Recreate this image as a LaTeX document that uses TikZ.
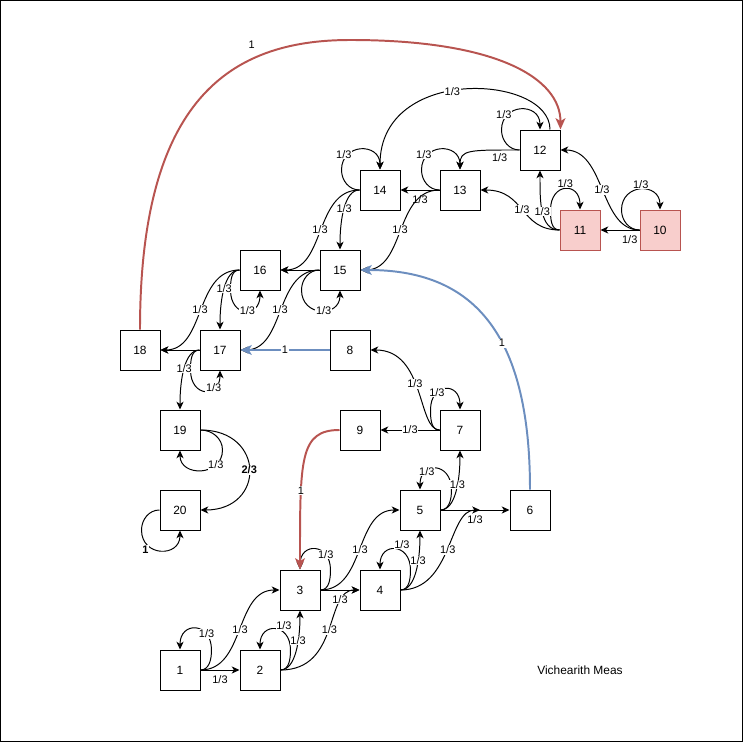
\documentclass[tikz,border=0pt]{standalone}
\usepackage{fontspec}
\setmainfont{Liberation Sans}
\usetikzlibrary{arrows.meta}

\definecolor{hotfill}{HTML}{F8CECC}
\definecolor{hotline}{HTML}{B85450}
\definecolor{coolline}{HTML}{6C8EBF}

\tikzset{
  box/.style={draw, line width=0.7pt, minimum size=1cm, inner sep=0pt, font=\fontsize{8.5}{10}\selectfont},
  hot/.style={box, draw=hotline, fill=hotfill},
  edge/.style={-{Stealth[length=5.5pt, width=5pt, inset=1.5pt]}, line width=0.7pt},
  redge/.style={-{Stealth[length=8pt, width=7pt, inset=2pt]}, line width=1.4pt, draw=hotline},
  bedge/.style={-{Stealth[length=8pt, width=7pt, inset=2pt]}, line width=1.4pt, draw=coolline},
  lbl/.style={font=\fontsize{7.8}{9}\selectfont, fill=white, inner sep=0.5pt},
}

\begin{document}
\begin{tikzpicture}
  \useasboundingbox (-0.5,0.2) rectangle (18.075,18.75);
  \draw[line width=0.7pt] (-0.488,0.212) rectangle (18.063,18.738);

  \node[box] (s1) at (4, 2) {1};
  \node[box] (s2) at (6, 2) {2};
  \node[box] (s3) at (7, 4) {3};
  \node[box] (s4) at (9, 4) {4};
  \node[box] (s5) at (10, 6) {5};
  \node[box] (s6) at (12.75, 6) {6};
  \node[box] (s7) at (11, 8) {7};
  \node[box] (s8) at (8.25, 10) {8};
  \node[box] (s9) at (8.5, 8) {9};
  \node[hot] (s10) at (16, 13) {10};
  \node[hot] (s11) at (14, 13) {11};
  \node[box] (s12) at (13, 15) {12};
  \node[box] (s13) at (11, 14) {13};
  \node[box] (s14) at (9, 14) {14};
  \node[box] (s15) at (8, 12) {15};
  \node[box] (s16) at (6, 12) {16};
  \node[box] (s17) at (5, 10) {17};
  \node[box] (s18) at (3, 10) {18};
  \node[box] (s19) at (4, 8) {19};
  \node[box] (s20) at (4, 6) {20};
  \node[font=\fontsize{8.5}{10}\selectfont] (author) at (14, 2) {Vichearith Meas};

  \coordinate (j6) at (11.5, 6);
  \coordinate (redtop) at (8.25, 17.75);

  % loops
  \draw[edge] (s1.east) to[out=0, in=-90] ++(0.275,0.5) to[out=90, in=90, looseness=2.3] node[lbl, pos=0.25] {1/3} (s1.north);
  \draw[edge] (s2.east) to[out=0, in=-90] ++(0.25,0.5) to[out=90, in=90, looseness=2.3] node[lbl, pos=0.3, above=1pt] {1/3} (s2.north);
  \draw[edge] (s3.east) to[out=0, in=-90] ++(0.25,0.5) to[out=90, in=90, looseness=2.3] node[lbl, pos=0.25] {1/3} (s3.north);
  \draw[edge] (s4.east) to[out=0, in=-90] ++(0.25,0.5) to[out=90, in=90, looseness=2.3] node[lbl, pos=0.35, above=1pt] {1/3} (s4.north);
  \draw[edge] (s5.east) to[out=0, in=-90] ++(0.275,0.5) to[out=90, in=90, looseness=2.3] node[lbl, pos=0.7] {1/3} (s5.north);
  \draw[edge] (s7.west) to[out=180, in=-90] ++(-0.225,0.5) to[out=90, in=90, looseness=2.4] node[lbl, pos=0.3] {1/3} (s7.north);
  \draw[edge] (s10.west) to[out=180, in=-90] ++(-0.45,0.5) to[out=90, in=90, looseness=1.8] node[lbl, pos=0.5, above] {1/3} (s10.north);
  \draw[edge] (s11.west) to[out=180, in=-90] ++(-0.225,0.5) to[out=90, in=90, looseness=2.4] node[lbl, pos=0.5, above] {1/3} (s11.north);
  \draw[edge] (s12.west) to[out=180, in=-90] ++(-0.45,0.5) to[out=90, in=90, looseness=1.8] node[lbl, pos=0.15, above] {1/3} (s12.north);
  \draw[edge] (s13.west) to[out=180, in=-90] ++(-0.45,0.5) to[out=90, in=90, looseness=1.8] node[lbl, pos=0.15, above] {1/3} (s13.north);
  \draw[edge] (s14.west) to[out=180, in=-90] ++(-0.45,0.5) to[out=90, in=90, looseness=1.8] node[lbl, pos=0.15, above] {1/3} (s14.north);
  \draw[edge] (s15.west) to[out=180, in=90] ++(-0.45,-0.5) to[out=-90, in=-90, looseness=1.8] node[lbl, pos=0.55] {1/3} (s15.south);
  \draw[edge] (s16.west) to[out=180, in=90] ++(-0.225,-0.5) to[out=-90, in=-90, looseness=2.4] node[lbl, pos=0.55] {1/3} (s16.south);
  \draw[edge] (s17.west) to[out=180, in=90] ++(-0.225,-0.5) to[out=-90, in=-90, looseness=2.4] node[lbl, pos=0.7] {1/3} (s17.south);
  \draw[edge] (s19.east) to[out=0, in=90] ++(0.55,-0.5) to[out=-90, in=-90, looseness=1.6] node[lbl, pos=0.25] {1/3} (s19.south);
  \draw[edge] (s20.west) to[out=180, in=90] ++(-0.45,-0.5) to[out=-90, in=-90, looseness=1.8] node[lbl, pos=0.2, below=1pt] {\textbf{1}} (s20.south);

  % moves
  \draw[edge] (s1.east) -- node[lbl, below=3pt] {1/3} (s2.west);
  \draw[edge] (s1.east) .. controls +(1.125,0) and +(-1.125,0) .. node[lbl] {1/3} (s3.west);
  \draw[edge] (s2.east) .. controls +(0.375,0) and +(0,-0.75) .. node[lbl, pos=0.65] {1/3} (s3.south);
  \draw[edge] (s2.east) .. controls +(1.5,0) and +(-0.875,0) .. node[lbl] {1/3} (s4.west);
  \draw[edge] (s3.east) -- node[lbl, below=3pt] {1/3} (s4.west);
  \draw[edge] (s3.east) .. controls +(1.125,0) and +(-1.125,0) .. node[lbl] {1/3} (s5.west);
  \draw[edge] (s4.east) .. controls +(0.375,0) and +(0,-0.75) .. node[lbl, pos=0.65] {1/3} (s5.south);
  \draw[edge] (s4.east) .. controls +(1.3,0) and +(-0.8,0) .. node[lbl] {1/3} (j6);
  \draw[edge] (s5.east) -- node[lbl, below=3pt] {1/3} (s6.west);
  \draw[edge] (s5.east) .. controls +(0.375,0) and +(0,-0.75) .. node[lbl, pos=0.6] {1/3} (s7.south);
  \draw[edge] (s7.west) .. controls +(-0.55,0) and +(1.375,0) .. node[lbl, pos=0.55] {1/3} (s8.east);
  \draw[edge] (s7.west) -- node[lbl] {1/3} (s9.east);
  \draw[edge] (s10.west) -- node[lbl, pos=0.25, below=3pt] {1/3} (s11.east);
  \draw[edge] (s10.west) .. controls +(-1,0) and +(1.125,0) .. node[lbl] {1/3} (s12.east);
  \draw[edge] (s11.west) .. controls +(-0.5,0) and +(0,-0.75) .. node[lbl] {1/3} (s12.south);
  \draw[edge] (s11.west) .. controls +(-1,0) and +(1.125,0) .. node[lbl] {1/3} (s13.east);
  \draw[edge] (s12.west) .. controls +(-1.25,0) and +(0,0.5) .. node[lbl, pos=0.15, below=2pt] {1/3} (s13.north);
  \draw[edge] ([xshift=0.25cm]s12.north) .. controls +(0,1.375) and +(0,2.625) .. node[lbl, pos=0.55] {1/3} (s14.north);
  \draw[edge] (s13.west) -- node[lbl, below=3pt] {1/3} (s14.east);
  \draw[edge] (s13.west) .. controls +(-1.125,0) and +(1.125,0) .. node[lbl] {1/3} (s15.east);
  \draw[edge] (s14.west) .. controls +(-0.375,0) and +(0,0.75) .. node[lbl] {1/3} (s15.north);
  \draw[edge] (s14.west) .. controls +(-1.125,0) and +(1.125,0) .. node[lbl] {1/3} (s16.east);
  \draw[edge] (s15.west) -- (s16.east);
  \draw[edge] (s15.west) .. controls +(-1.125,0) and +(1.125,0) .. node[lbl] {1/3} (s17.east);
  \draw[edge] (s16.west) .. controls +(-0.375,0) and +(0,0.75) .. node[lbl] {1/3} (s17.north);
  \draw[edge] (s16.west) .. controls +(-1.125,0) and +(1.125,0) .. node[lbl] {1/3} (s18.east);
  \draw[edge] (s17.west) -- (s18.east);
  \draw[edge] (s17.west) .. controls +(-0.375,0) and +(0,0.75) .. node[lbl] {1/3} (s19.north);
  \draw[edge] (s19.east) .. controls +(1.625,0) and +(1.625,0) .. node[lbl] {\textbf{2/3}} (s20.east);

  % single moves
  \draw[bedge] (s6.north) .. controls +(0,4) and +(2.75,0) .. node[lbl, pos=0.4] {1} (s15.east);
  \draw[bedge] (s8.west) -- node[lbl] {1} (s17.east);
  \draw[redge] (s9.west) .. controls +(-1,0) and +(0,2.75) .. node[lbl, pos=0.7] {1} (s3.north);
  \draw[redge] (s18.north) .. controls +(0,5.75) and +(-3,0) .. node[lbl, pos=0.7, above=6pt] {1} (redtop)
    .. controls +(3.75,0) and +(0,1.25) .. (s12.north east);
\end{tikzpicture}
\end{document}
